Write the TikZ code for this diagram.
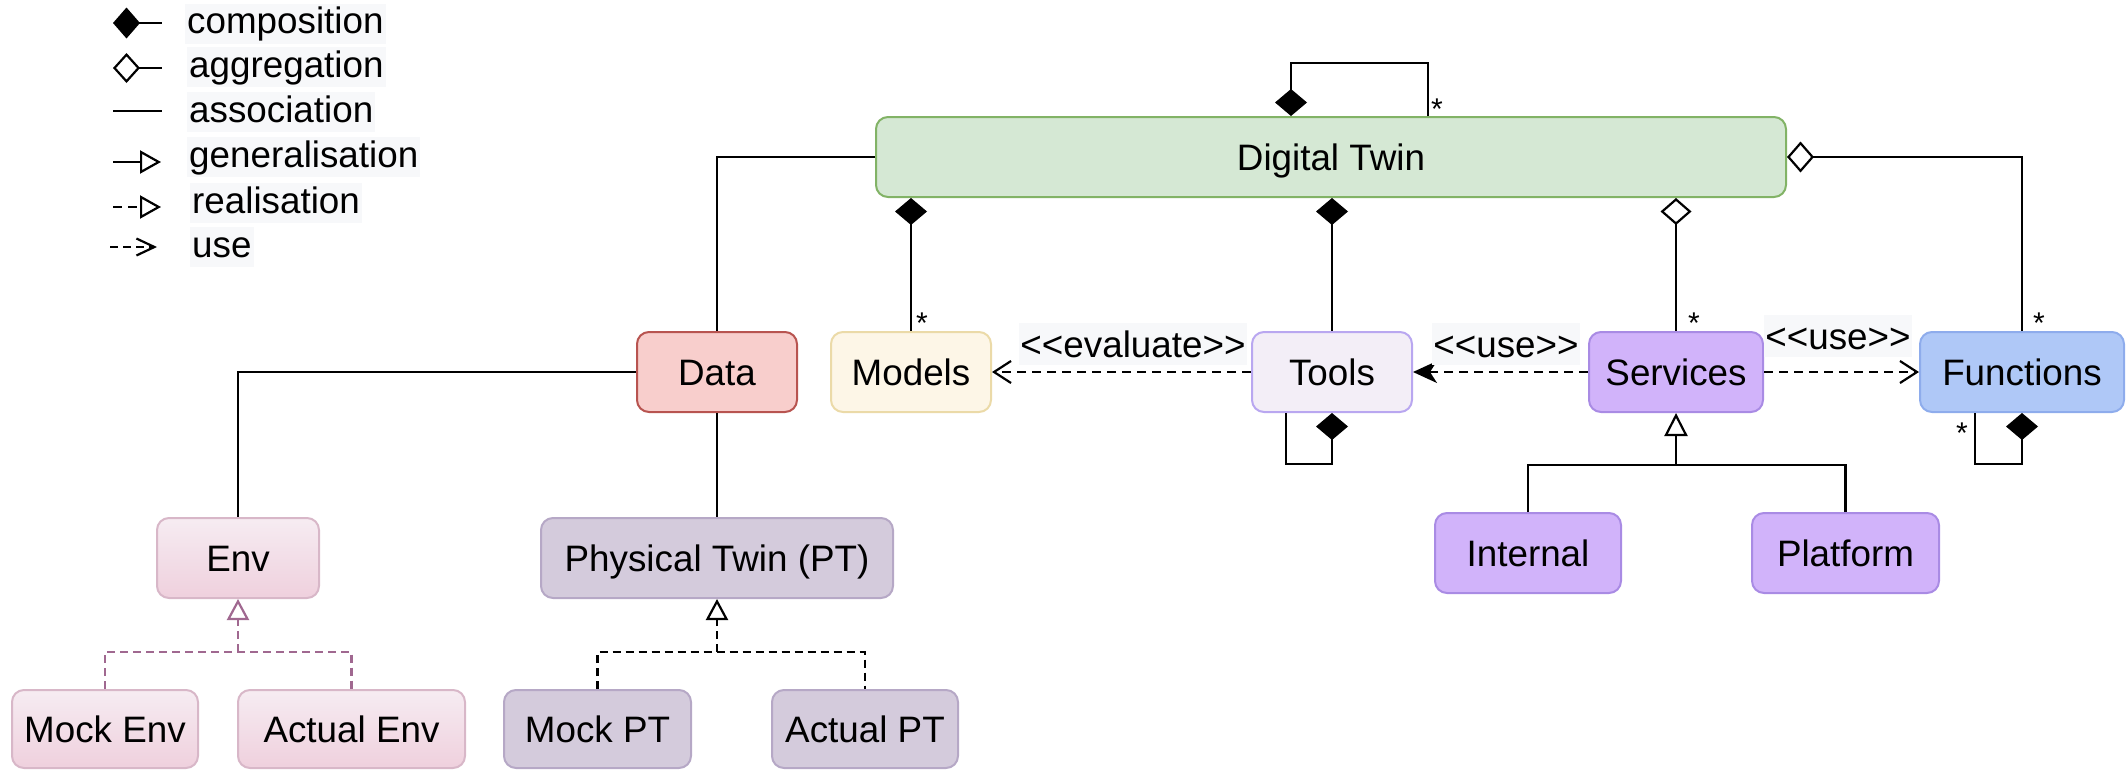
\documentclass[tikz,border=0pt]{standalone}
\usepackage{fontspec}
\setmainfont[Ligatures=NoCommon]{Liberation Sans}
\usetikzlibrary{arrows.meta,calc}
\definecolor{dtfill}{HTML}{D5E8D4}\definecolor{dtdraw}{HTML}{82B366}
\definecolor{datafill}{HTML}{F8CECC}\definecolor{datadraw}{HTML}{B85450}
\definecolor{modfill}{HTML}{FDF6E7}\definecolor{moddraw}{HTML}{EBDAA8}
\definecolor{toolfill}{HTML}{F3EEF7}\definecolor{tooldraw}{HTML}{B9A7F0}
\definecolor{servfill}{HTML}{D1B3FA}\definecolor{servdraw}{HTML}{A98BE4}
\definecolor{funcfill}{HTML}{AFC8F7}\definecolor{funcdraw}{HTML}{8EACEC}
\definecolor{envtop}{HTML}{F6ECF2}\definecolor{envbot}{HTML}{EFD0DD}\definecolor{envdraw}{HTML}{D8B7C8}
\definecolor{ptfill}{HTML}{D4CBDC}\definecolor{ptdraw}{HTML}{B6A8C6}
\definecolor{mauve}{HTML}{A06890}
\definecolor{lblbg}{HTML}{F7F8FA}
\newcommand{\ltlt}{{<}{<}}
\newcommand{\gtgt}{{>}{>}}
\begin{document}
\begin{tikzpicture}[x=1pt,y=-1pt,
  box/.style={draw, line width=2pt, rounded corners=12pt, inner sep=0pt,
    minimum height=80pt, text height=27pt, text depth=0pt,
    font=\fontsize{36.8}{44}\selectfont},
  envbox/.style={box, draw=envdraw, top color=envtop, bottom color=envbot},
  ptbox/.style={box, draw=ptdraw, fill=ptfill},
  servbox/.style={box, draw=servdraw, fill=servfill},
  conn/.style={line width=2.2pt, draw=black},
  compS/.style={conn, {Diamond[length=27pt,width=32pt]}-},
  compE/.style={conn, -{Diamond[length=27pt,width=32pt]}},
  aggS/.style={conn, {Diamond[open,length=27pt,width=31pt]}-},
  dashline/.style={dash pattern=on 9pt off 6pt},
  usearr/.style={conn, dashline, -{Straight Barb[length=17pt,width=22pt]}},
  genarr/.style={conn, -{Triangle[open,length=23pt,width=23pt]}},
  lbl/.style={fill=lblbg, inner xsep=1pt, inner ysep=0pt, minimum height=42pt,
    text height=27pt, text depth=0pt, font=\fontsize{36.8}{44}\selectfont},
  legtxt/.style={fill=lblbg, inner xsep=2pt, inner ysep=3pt, anchor=base west,
    text height=27pt, text depth=7pt, font=\fontsize{36.8}{44}\selectfont},
  star/.style={inner sep=0pt, font=\fontsize{30}{36}\selectfont}
]
\useasboundingbox (0,0) rectangle (2126,771);

% ---- legend ----
\coordinate (l1a) at (113,23);  \coordinate (l1b) at (162,23);
\coordinate (l2a) at (113,68);  \coordinate (l2b) at (162,68);
\coordinate (l3a) at (113,111); \coordinate (l3b) at (162,111);
\coordinate (l4a) at (113,162); \coordinate (l4b) at (161,162);
\coordinate (l5a) at (113,207); \coordinate (l5b) at (161,207);
\coordinate (l6a) at (110,247); \coordinate (l6b) at (157,247);
\draw[conn, {Diamond[length=27pt,width=31pt]}-] (l1a) -- (l1b);
\draw[conn, {Diamond[open,length=27pt,width=30pt]}-] (l2a) -- (l2b);
\draw[conn] (l3a) -- (l3b);
\draw[conn, -{Triangle[open,length=21pt,width=23pt]}] (l4a) -- (l4b);
\draw[conn, dashline, -{Triangle[open,length=21pt,width=23pt]}] (l5a) -- (l5b);
\draw[conn, dash pattern=on 8pt off 5pt, -{Straight Barb[length=18pt,width=17pt]}] (l6a) -- (l6b);
\node[legtxt] (t1) at (185,34) {composition};
\node[legtxt] (t2) at (187,77) {aggregation};
\node[legtxt] (t3) at (187,122) {association};
\node[legtxt] (t4) at (187,167) {generalisation};
\node[legtxt] (t5) at (190,213) {realisation};
\node[legtxt] (t6) at (190,257) {use};

% ---- nodes ----
\node[box, fill=dtfill, draw=dtdraw, minimum width=910pt] (dt) at (1331,157) {Digital Twin};
\node[box, fill=datafill, draw=datadraw, minimum width=160pt] (data) at (717,372) {Data};
\node[box, fill=modfill, draw=moddraw, minimum width=160pt] (models) at (911,372) {Models};
\node[box, fill=toolfill, draw=tooldraw, minimum width=160pt] (tools) at (1332,372) {Tools};
\node[servbox, minimum width=174pt] (services) at (1676,372) {Services};
\node[box, fill=funcfill, draw=funcdraw, minimum width=204pt] (functions) at (2022,372) {Functions};
\node[servbox, minimum width=186pt] (internal) at (1528,553) {Internal};
\node[servbox, minimum width=187pt] (platform) at (1845.5,553) {Platform};
\node[envbox, minimum width=162pt] (env) at (238,558) {Env};
\node[ptbox, minimum width=352pt] (pt) at (717,558) {Physical Twin (PT)};
\node[envbox, minimum width=186pt, minimum height=78pt] (mockenv) at (105,729) {Mock Env};
\node[envbox, minimum width=227pt, minimum height=78pt] (actualenv) at (351.5,729) {Actual Env};
\node[ptbox, minimum width=187pt, minimum height=78pt] (mockpt) at (597.5,729) {Mock PT};
\node[ptbox, minimum width=186pt, minimum height=78pt] (actualpt) at (865,729) {Actual PT};

% ---- connectors ----
\draw[compE] ($(dt.north)+(97,0)$) -- ++(0,-53) -| ($(dt.north)+(-40,0)$);
\node[star] (s1) at (1437,109) {*};
\draw[conn] (dt.west) -| (data.north);
\draw[conn] (data.west) -| (env.north);
\draw[conn] (data.south) -- (pt.north);
\draw[compS] (dt.south -| models.north) -- (models.north);
\node[star] (s2) at (922,323) {*};
\draw[compS] (dt.south -| tools.north) -- (tools.north);
\draw[aggS] (dt.south -| services.north) -- (services.north);
\node[star] (s3) at (1694,323) {*};
\draw[aggS] (dt.east) -| (functions.north);
\node[star] (s4) at (2039,323) {*};

\draw[usearr] (tools.west) -- (models.east);
\node[lbl] (lev) at (1133,344) {\ltlt evaluate\gtgt};
\draw[conn, dashline, -{Stealth[length=24pt,width=22pt,inset=7pt]}] (services.west) -- (tools.east);
\node[lbl] (lu1) at (1506,344) {\ltlt use\gtgt};
\draw[usearr] (services.east) -- (functions.west);
\node[lbl] (lu2) at (1838,336) {\ltlt use\gtgt};

\draw[compS] (tools.south) -- ++(0,51) -| ($(tools.south)+(-46,0)$);
\draw[compS] (functions.south) -- ++(0,51) -| ($(functions.south)+(-47,0)$);
\node[star] (s5) at (1962,433) {*};

\coordinate (sj) at (1676,465);
\draw[conn] (internal.north) |- (sj) -| (platform.north);
\draw[genarr] (sj) -- (services.south);

\coordinate (ej) at (238,652);
\draw[conn, draw=mauve, dash pattern=on 8pt off 5pt] (mockenv.north) |- (ej) -| (actualenv.north);
\draw[conn, draw=mauve, dash pattern=on 8pt off 5pt, -{Triangle[open,length=21pt,width=22pt]}] (ej) -- (env.south);

\coordinate (pj) at (717,652);
\draw[conn, dash pattern=on 8pt off 5pt] (mockpt.north) |- (pj) -| (actualpt.north);
\draw[conn, dash pattern=on 8pt off 5pt, -{Triangle[open,length=21pt,width=22pt]}] (pj) -- (pt.south);
\end{tikzpicture}
\end{document}
